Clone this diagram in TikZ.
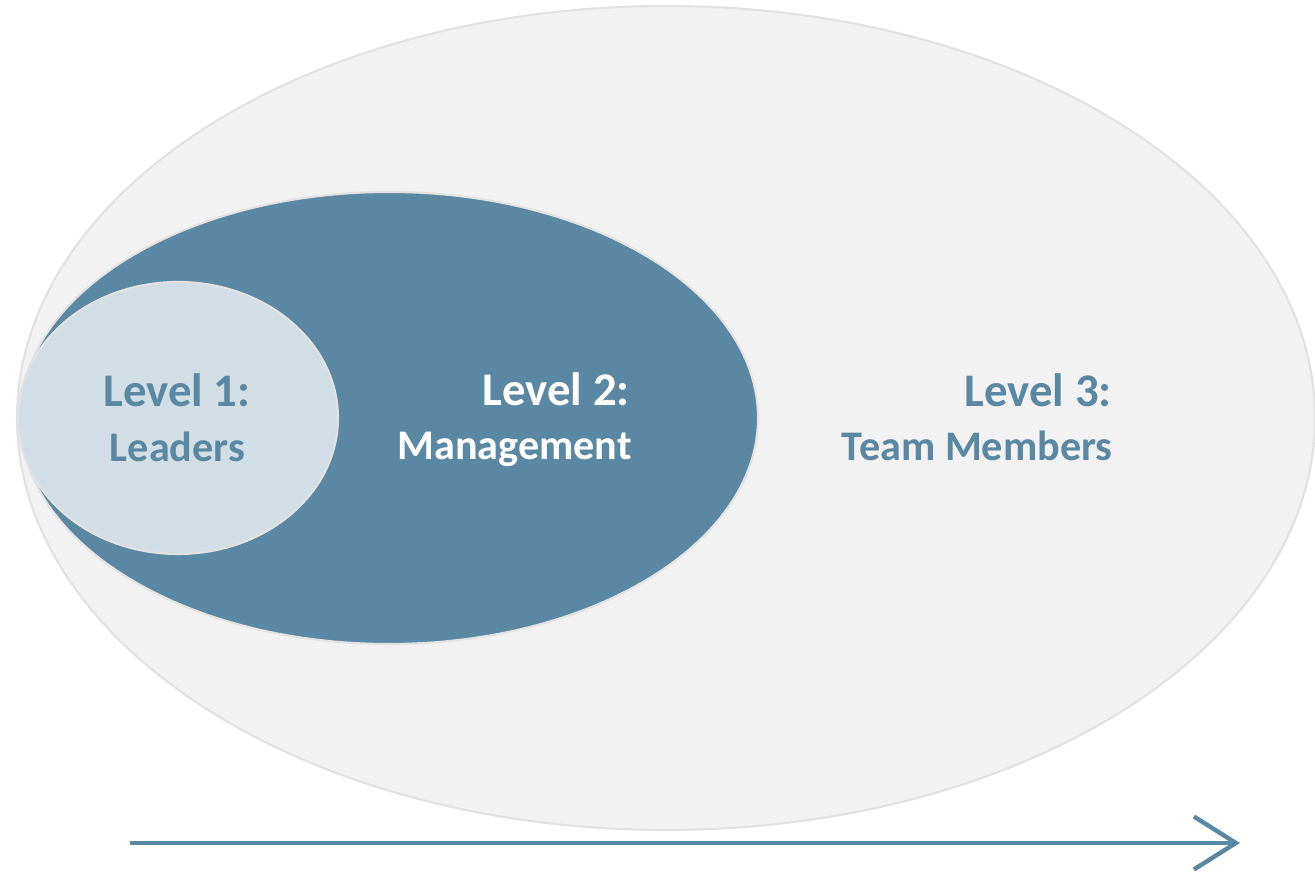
\documentclass[tikz,border=0pt]{standalone}
\usepackage{fontspec}
\setmainfont{Carlito}
\usetikzlibrary{shapes.geometric, arrows.meta}
\definecolor{steel}{HTML}{5A87A2}
\definecolor{pale}{HTML}{D1DEE6}
\definecolor{mist}{HTML}{F2F2F2}
\definecolor{rim}{HTML}{E2E2E2}
\tikzset{ring/.style={ellipse, draw=rim, line width=1.2pt, inner sep=0pt},
         head/.style={font=\bfseries\fontsize{26.6}{30}\selectfont, inner sep=0pt},
         sub/.style={font=\bfseries\fontsize{24}{28}\selectfont, inner sep=0pt}}

\begin{document}
\begin{tikzpicture}
            \useasboundingbox (0, 0) rectangle (26.3, 17.44);
            \node[ring, fill=mist, minimum width=25.96cm, minimum height=16.48cm] (team) at (13.32, 9.08) {};
            \node[ring, fill=steel, minimum width=14.76cm, minimum height=9.04cm] (mgmt) at (7.78, 9.08) {};
            \node[ring, fill=pale, minimum width=6.4cm, minimum height=5.44cm] (lead) at (3.56, 9.08) {};
            \node[head, steel, anchor=base] (lead top) at (3.54, 9.3) {Level 1:};
            \node[sub, steel, anchor=base] (lead bot) at (3.55, 8.2) {Leaders};
            \node[head, white, anchor=base east] (mgmt top) at (12.6, 9.32) {Level 2:};
            \node[sub, white, anchor=base east] (mgmt bot) at (12.64, 8.24) {Management};
            \node[head, steel, anchor=base east] (team top) at (22.24, 9.31) {Level 3:};
            \node[sub, steel, anchor=base east] (team bot) at (22.26, 8.22) {Team Members};
            \coordinate (from) at (2.6, 0.58);
            \coordinate (to) at (24.8, 0.58);
            \draw[steel, line width=2.1pt, -{Straight Barb[length=0.84cm, width=1.06cm, line width=2.5pt]}] (from) -- (to);
        \end{tikzpicture}
\end{document}
